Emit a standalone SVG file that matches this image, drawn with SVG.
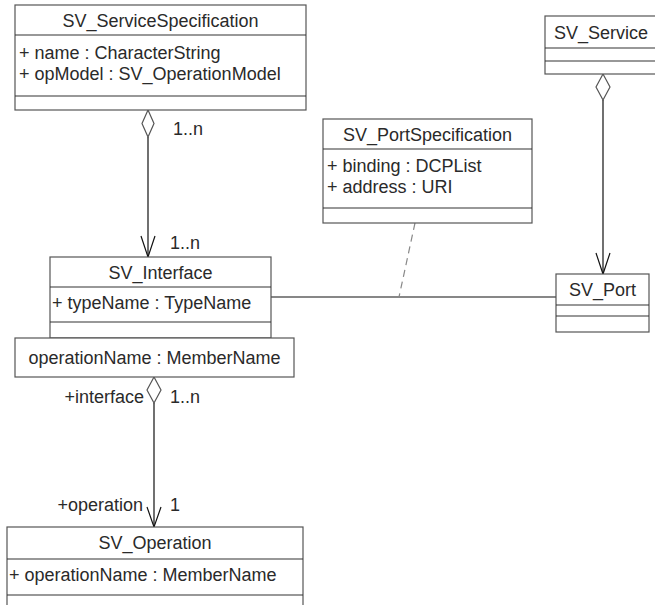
<svg xmlns="http://www.w3.org/2000/svg" width="655" height="605" viewBox="0 0 655 605">
<style>
text{font-family:"Liberation Sans",Arial,sans-serif;font-size:18px;fill:#2a2a2a}
.t{text-anchor:middle}
.e{text-anchor:end}
.box{fill:#fff;stroke:#555;stroke-width:1.2}
.div{stroke:#333;stroke-width:1.2}
.ln{stroke:#111;stroke-width:1.2;fill:none}
.dia{fill:#fff;stroke:#555;stroke-width:1.2}
.dash{stroke:#888;stroke-width:1.2;stroke-dasharray:7 5;fill:none}
</style>
<rect width="655" height="605" fill="#fff"/>
<g id="connectors">
<line class="ln" x1="148" y1="137" x2="148" y2="257"/>
<polyline class="ln" points="141,236 148,257 155,236"/>
<polygon class="dia" points="148,110 142,123.5 148,137 154,123.5"/>
<text x="173" y="135">1..n</text>
<text x="170" y="249">1..n</text>
<line class="ln" x1="603" y1="100" x2="603" y2="274"/>
<polyline class="ln" points="596,253 603,274 610,253"/>
<polygon class="dia" points="603,74 596,87 603,100 610,87"/>
<line class="ln" x1="271" y1="297" x2="556" y2="297"/>
<line class="dash" x1="415" y1="223" x2="399" y2="297"/>
<line class="ln" x1="154" y1="403" x2="154" y2="527"/>
<polyline class="ln" points="147,507 154,527 161,507"/>
<polygon class="dia" points="154,377 147,390 154,403 161,390"/>
<text class="e" x="144" y="403">+interface</text>
<text x="170" y="403">1..n</text>
<text class="e" x="143" y="511">+operation</text>
<text x="170" y="511">1</text>
</g>
<g id="SV_ServiceSpecification">
<rect class="box" x="15" y="5" width="291" height="105"/>
<line class="div" x1="15" y1="35" x2="306" y2="35"/>
<line class="div" x1="15" y1="96" x2="306" y2="96"/>
<text class="t" x="160.5" y="27">SV_ServiceSpecification</text>
<text x="19" y="59">+ name : CharacterString</text>
<text x="19" y="80">+ opModel : SV_OperationModel</text>
</g>
<g id="SV_Service">
<rect class="box" x="545" y="16" width="115" height="58"/>
<line class="div" x1="545" y1="48" x2="660" y2="48"/>
<line class="div" x1="545" y1="61" x2="660" y2="61"/>
<text class="t" x="601" y="39">SV_Service</text>
</g>
<g id="SV_PortSpecification">
<rect class="box" x="323" y="119" width="209" height="104"/>
<line class="div" x1="323" y1="149" x2="532" y2="149"/>
<line class="div" x1="323" y1="208" x2="532" y2="208"/>
<text class="t" x="427.5" y="141">SV_PortSpecification</text>
<text x="327" y="172">+ binding : DCPList</text>
<text x="327" y="193">+ address : URI</text>
</g>
<g id="SV_Interface">
<rect class="box" x="50" y="257" width="221" height="81"/>
<line class="div" x1="50" y1="287" x2="271" y2="287"/>
<line class="div" x1="50" y1="322" x2="271" y2="322"/>
<text class="t" x="160.5" y="279">SV_Interface</text>
<text x="52" y="309">+ typeName : TypeName</text>
</g>
<g id="operationName">
<rect class="box" x="15" y="338" width="279" height="39"/>
<text class="t" x="154.5" y="364">operationName : MemberName</text>
</g>
<g id="SV_Port">
<rect class="box" x="556" y="274" width="93" height="58"/>
<line class="div" x1="556" y1="305" x2="649" y2="305"/>
<line class="div" x1="556" y1="316" x2="649" y2="316"/>
<text class="t" x="602.5" y="296">SV_Port</text>
</g>
<g id="SV_Operation">
<rect class="box" x="7" y="527" width="296" height="90"/>
<line class="div" x1="7" y1="559" x2="303" y2="559"/>
<line class="div" x1="7" y1="595" x2="303" y2="595"/>
<text class="t" x="155" y="549">SV_Operation</text>
<text x="9" y="581">+ operationName : MemberName</text>
</g>
</svg>
